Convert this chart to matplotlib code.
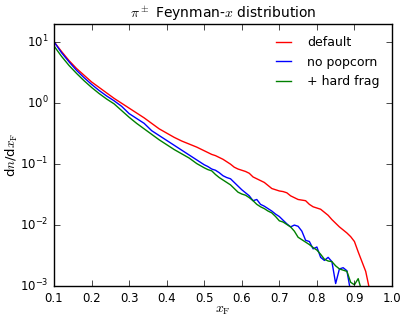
import numpy as np
import matplotlib
matplotlib.use('Agg')
import matplotlib.pyplot as plt

plt.style.use('classic')

# x_F bin centres (coarse 0.02 up to 0.5, then 0.01)
xf = [0.10, 0.12, 0.14, 0.16, 0.18, 0.20, 0.22, 0.24, 0.26, 0.28,
      0.30, 0.32, 0.34, 0.36, 0.38, 0.40, 0.42, 0.44, 0.46, 0.48,
      0.50, 0.51, 0.52, 0.53, 0.54, 0.55, 0.56, 0.57, 0.58, 0.59,
      0.60, 0.61, 0.62, 0.63, 0.64, 0.65, 0.66, 0.67, 0.68, 0.69,
      0.70, 0.71, 0.72, 0.73, 0.74, 0.75, 0.76, 0.77, 0.78, 0.79,
      0.80, 0.81, 0.82, 0.83, 0.84, 0.85, 0.86, 0.87, 0.88, 0.89,
      0.90, 0.91, 0.92, 0.93, 0.94]

# log10(dn/dx_F)
log_default = [1.01, 0.85, 0.70, 0.57, 0.46, 0.35, 0.26, 0.17, 0.08, 0.00,
               -0.08, -0.16, -0.24, -0.33, -0.42, -0.49, -0.56, -0.62, -0.67, -0.72,
               -0.78, -0.81, -0.84, -0.86, -0.89, -0.92, -0.96, -1.00, -1.05, -1.08,
               -1.10, -1.12, -1.15, -1.21, -1.24, -1.27, -1.30, -1.35, -1.40, -1.42,
               -1.44, -1.45, -1.47, -1.52, -1.55, -1.58, -1.59, -1.60, -1.66, -1.70,
               -1.72, -1.74, -1.79, -1.84, -1.91, -1.97, -2.03, -2.08, -2.13, -2.19,
               -2.27, -2.44, -2.60, -2.76, -3.05]

log_nopop = [1.01, 0.83, 0.68, 0.54, 0.42, 0.31, 0.21, 0.12, 0.04, -0.05,
             -0.17, -0.25, -0.33, -0.45, -0.53, -0.61, -0.69, -0.77, -0.85, -0.93,
             -1.01, -1.04, -1.08, -1.10, -1.14, -1.19, -1.22, -1.24, -1.30, -1.36,
             -1.42, -1.47, -1.52, -1.60, -1.58, -1.66, -1.69, -1.73, -1.77, -1.82,
             -1.86, -1.92, -1.98, -2.03, -2.00, -2.02, -2.10, -2.25, -2.27, -2.39,
             -2.36, -2.53, -2.58, -2.53, -2.60, -2.96, -2.72, -2.70, -2.75, -3.10,
             -3.20, -3.20, -3.20, -3.20, -3.20]

log_hard = [0.94, 0.77, 0.62, 0.49, 0.37, 0.26, 0.16, 0.07, -0.01, -0.12,
            -0.23, -0.33, -0.42, -0.51, -0.60, -0.68, -0.76, -0.83, -0.90, -0.99,
            -1.06, -1.09, -1.11, -1.17, -1.22, -1.26, -1.30, -1.34, -1.40, -1.46,
            -1.49, -1.51, -1.55, -1.60, -1.66, -1.70, -1.73, -1.77, -1.80, -1.86,
            -1.93, -1.95, -1.99, -2.03, -2.10, -2.20, -2.24, -2.28, -2.32, -2.37,
            -2.41, -2.48, -2.56, -2.59, -2.60, -2.67, -2.72, -2.74, -2.76, -2.94,
            -2.98, -2.88, -3.10, -3.20, -3.20]

labels = ['default', 'no popcorn', '+ hard frag']

xf = np.array(xf)
series = [log_default, log_nopop, log_hard]
colors = ['r', 'b', 'g']

fig = plt.figure(figsize=(4.07, 3.23), dpi=100)
ax = fig.add_axes([0.1327, 0.1146, 0.8304, 0.8111])

for vals, c, lab in zip(series, colors, labels):
    ax.plot(xf, 10 ** np.array(vals), color=c, linewidth=1, label=lab)

ax.set_yscale('log')
ax.set_xlim(0.1, 1.0)
ax.set_ylim(1e-3, 20)
ax.yaxis.set_minor_locator(matplotlib.ticker.NullLocator())
ax.tick_params(labelsize=8.5)
ax.set_xlabel(r'$x_\mathrm{F}$', fontsize=10)
ax.set_ylabel(r'd$n$/d$x_\mathrm{F}$', fontsize=9.5)
ax.xaxis.set_label_coords(0.5, -0.065)
ax.yaxis.set_label_coords(-0.1, 0.5)
ax.set_title(r'$\pi^\pm$ Feynman-$x$ distribution', fontsize=10, pad=4)
ax.legend(loc='upper right', frameon=False, fontsize=9, handlelength=1.75,
          handletextpad=1.0, labelspacing=0.5, borderaxespad=0.6)

fig.savefig('out.png', dpi=100)
